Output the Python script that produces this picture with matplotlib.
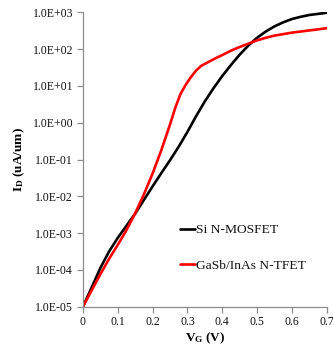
import matplotlib
matplotlib.use("Agg")
import matplotlib.pyplot as plt
from matplotlib.ticker import FixedLocator, FuncFormatter
import numpy as np

# Data: V_G (V) and log10 of I_D (uA/um)
si_vg = [0.0, 0.025, 0.05, 0.075, 0.1, 0.125, 0.15, 0.175, 0.2, 0.225, 0.25, 0.275, 0.3,
         0.325, 0.35, 0.375, 0.4, 0.425, 0.45, 0.475, 0.5, 0.525, 0.55, 0.575, 0.6,
         0.625, 0.65, 0.675, 0.7]
si_log_id = [-5.0, -4.48, -3.95, -3.5, -3.13, -2.8, -2.47, -2.1, -1.73, -1.37, -1.02, -0.65, -0.25,
             0.18, 0.58, 0.94, 1.27, 1.57, 1.85, 2.1, 2.31, 2.48, 2.62, 2.73, 2.82,
             2.88, 2.93, 2.96, 2.99]

tfet_vg = [0.0, 0.025, 0.05, 0.075, 0.1, 0.125, 0.15, 0.175, 0.2, 0.225, 0.25, 0.265, 0.28,
           0.295, 0.31, 0.325, 0.34, 0.36, 0.38, 0.4, 0.425, 0.45, 0.475, 0.5, 0.525,
           0.55, 0.575, 0.6, 0.625, 0.65, 0.675, 0.7]
tfet_log_id = [-5.0, -4.56, -4.12, -3.7, -3.32, -2.92, -2.46, -1.95, -1.38, -0.75, -0.05, 0.4, 0.78,
               1.03, 1.24, 1.42, 1.55, 1.65, 1.75, 1.84, 1.96, 2.06, 2.15, 2.24, 2.31,
               2.37, 2.41, 2.45, 2.48, 2.51, 2.54, 2.57]

series_labels = ["Si N-MOSFET", "GaSb/InAs N-TFET"]
y_ticks = [1e-5, 1e-4, 1e-3, 1e-2, 1e-1, 1e0, 1e1, 1e2, 1e3]
x_ticks = [0, 0.1, 0.2, 0.3, 0.4, 0.5, 0.6, 0.7]
x_tick_labels = ["0", "0.1", "0.2", "0.3", "0.4", "0.5", "0.6", "0.7"]

plt.rcParams['font.family'] = ['Liberation Serif', 'DejaVu Serif']
plt.rcParams['mathtext.fontset'] = 'custom'
plt.rcParams['mathtext.rm'] = 'Liberation Serif'
plt.rcParams['mathtext.it'] = 'Liberation Serif:italic'
plt.rcParams['mathtext.bf'] = 'Liberation Serif:bold'

fig = plt.figure(figsize=(3.33, 3.45), dpi=100)
ax = fig.add_axes([0.249, 0.111, 0.732, 0.853])

ax.plot(si_vg, np.power(10.0, si_log_id), color='black', lw=1.9,
        label=series_labels[0], solid_capstyle='round', solid_joinstyle='round')
ax.plot(tfet_vg, np.power(10.0, tfet_log_id), color='#ff0000', lw=1.9,
        label=series_labels[1], solid_capstyle='round', solid_joinstyle='round')

ax.set_yscale('log')
ax.set_xlim(0, 0.7)
ax.set_ylim(1e-5, 1e3)
ax.yaxis.set_major_locator(FixedLocator(y_ticks))
ax.yaxis.set_minor_locator(FixedLocator([]))
ax.yaxis.set_major_formatter(FuncFormatter(lambda v, p: f"{v:.1E}"))
ax.set_xticks(x_ticks)
ax.set_xticklabels(x_tick_labels)

for s in ['top', 'right']:
    ax.spines[s].set_visible(False)
for s in ['left', 'bottom']:
    ax.spines[s].set_color('#8c8c8c')
    ax.spines[s].set_linewidth(0.9)
ax.tick_params(axis='both', which='major', direction='out', length=4, width=0.9,
               color='#8c8c8c', labelsize=8.5, labelcolor='#111111', pad=3)

ax.set_xlabel(r'$\mathbf{V_G}$ (V)', fontsize=9.5, fontweight='bold', labelpad=1.5)
ax.set_ylabel(r'$\mathbf{I_D}$ (uA/um)', fontsize=9.5, fontweight='bold', labelpad=4)

leg = ax.legend(loc='center left', bbox_to_anchor=(0.40, 0.200), frameon=False,
                fontsize=9.7, handlelength=1.05, handletextpad=0.1, labelspacing=1.7,
                borderpad=0, borderaxespad=0)
for t in leg.get_texts():
    t.set_color('#111111')

fig.savefig('out.png', dpi=100)
